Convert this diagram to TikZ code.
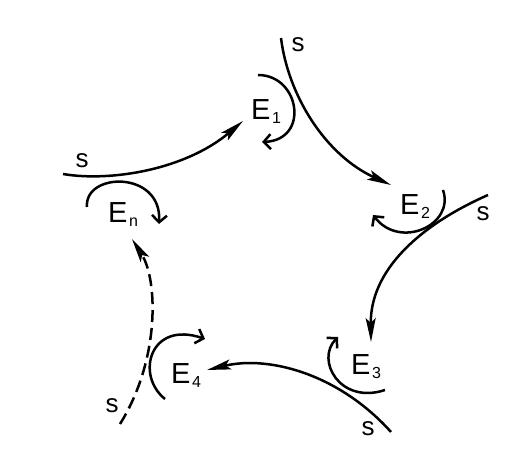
\documentclass[tikz,border=0pt]{standalone}
\usepackage{fontspec}
\setmainfont{Liberation Sans}
\usetikzlibrary{arrows.meta}

\newcommand{\esub}[1]{E\hspace{1.5pt}\raisebox{-4pt}{\fontsize{16}{16}\selectfont #1}}

\begin{document}
\begin{tikzpicture}[
  x=1pt, y=-1pt,
  flow/.style={-{Stealth[length=24pt,width=10pt,inset=5pt]}, line width=2.5pt},
  spin/.style={-{Straight Barb[length=7pt,width=15pt]}, line width=2.5pt},
  ename/.style={anchor=base west, inner sep=0pt, font=\fontsize{29}{29}\selectfont},
  sname/.style={inner sep=0pt, font=\fontsize{26}{26}\selectfont}
]
\useasboundingbox (0,0) rectangle (517,454);

% --- Labels ---
\node[ename] (E1) at (251,120) {\esub{1}};
\node[ename] (E2) at (400,215) {\esub{2}};
\node[ename] (E3) at (351,374) {\esub{3}};
\node[ename] (E4) at (171,384) {\esub{4}};
\node[ename] (En) at (108,223) {\esub{n}};

\node[sname] (s1) at (298,45) {s};
\node[sname] (s2) at (483,214) {s};
\node[sname] (s3) at (368,429) {s};
\node[sname] (s4) at (112,406) {s};
\node[sname] (sn) at (82,161) {s};

% --- Ends of the paths ---
\coordinate (p1) at (281,38);
\coordinate (q1) at (391,185);
\coordinate (p2) at (488,195);
\coordinate (q2) at (371,342);
\coordinate (p3) at (391,432);
\coordinate (q3) at (207,370);
\coordinate (p4) at (120,424);
\coordinate (q4) at (132,239);
\coordinate (pn) at (63,174);
\coordinate (qn) at (243,121);

% --- Paths from one E to the next ---
\draw[flow] (pn) .. controls (110,182) and (185,170) .. (qn);
\draw[flow] (p1) .. controls (288,95) and (325,155) .. (q1);
\draw[flow] (p2) .. controls (420,225) and (370,270) .. (q2);
\draw[flow] (p3) .. controls (340,375) and (270,355) .. (q3);
\draw[flow, dash pattern=on 12pt off 6pt] (p4) .. controls (160,360) and (158,280) .. (q4);

% --- Turns at each E ---
\draw[spin] (258,75) .. controls (300,75) and (310,140) .. (262,142);
\draw[spin] (443,190) .. controls (455,225) and (400,250) .. (373,215);
\draw[spin] (385,390) .. controls (340,405) and (315,360) .. (338,337);
\draw[spin] (165,399) .. controls (135,375) and (150,320) .. (205,339);
\draw[spin] (87,207) .. controls (84,172) and (162,170) .. (159,224);

\end{tikzpicture}
\end{document}
